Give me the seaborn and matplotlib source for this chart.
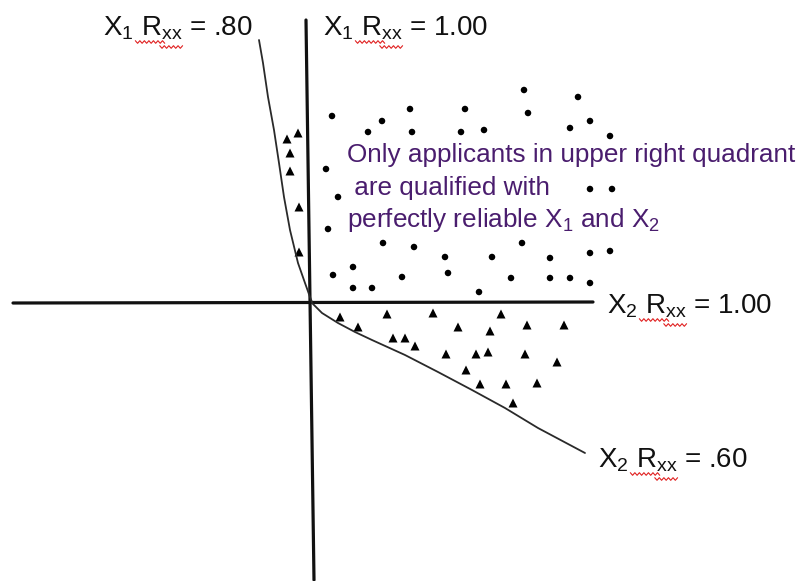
import numpy as np
import pandas as pd
import matplotlib
matplotlib.use("Agg")
import matplotlib.pyplot as plt
import seaborn as sns

# Applicants qualified on both predictors (upper right quadrant)
dots_x = [20, 98, 70, 56, 100, 153, 149, 172, 212, 216, 266, 278, 258, 298,
          14, 26, 16, 278, 300, 71, 102, 133, 180, 210, 238, 278, 298,
          21, 41, 41, 60, 90, 136, 167, 199, 238, 258, 278]
dots_y = [186, 193, 181, 170, 170, 193, 170, 172, 212, 189, 205, 181, 174, 166,
          133, 105, 73, 113, 113, 59, 55, 45, 45, 59, 44, 49, 51,
          27, 35, 14, 14, 25, 29, 10, 24, 24, 24, 19]

# Applicants that only qualify once measurement error is allowed
tri_x = [-14, -25, -22, -22, -13, -13,
         28, 46, 75, 121, 189, 146, 178, 215, 252, 81, 93, 103, 134, 164, 176,
         213, 245, 154, 168, 194, 225, 201]
tri_y = [169, 163, 149, 131, 95, 50,
         -15, -25, -12, -11, -12, -25, -29, -23, -23, -36, -36, -44, -52, -52, -50,
         -52, -60, -68, -82, -82, -81, -101]

# Boundaries for the unreliable predictors
x1_curve_x = [-53, -49, -44, -38, -33, -28, -22, -14, -7, -2, 0]
x1_curve_y = [262, 239, 205, 172, 139, 105, 72, 39, 19, 5, 0]
x2_curve_x = [0, 10, 26, 43, 60, 93, 126, 160, 193, 226, 273]
x2_curve_y = [-1, -11, -21, -30, -38, -53, -70, -88, -106, -126, -151]

# Perfectly reliable predictor axes
h_axis_x = [-299, 281]
h_axis_y = [-1, 0]
v_axis_x = [-6, 2]
v_axis_y = [282, -278]

labels = ["X$_1$ R$_{xx}$ = .80", "X$_1$ R$_{xx}$ = 1.00",
          "X$_2$ R$_{xx}$ = 1.00", "X$_2$ R$_{xx}$ = .60"]
label_x = [-209, 11, 295, 286]
label_y = [267, 267, -11, -165]

note_lines = ["Only applicants in upper right quadrant",
              " are qualified with",
              "perfectly reliable X$_1$ and X$_2$"]
note_x = 35
note_y = [140, 107, 75]

sns.set_theme(style="white")
plt.rcParams["font.family"] = ["Liberation Sans", "DejaVu Sans"]
plt.rcParams["mathtext.fontset"] = "custom"
plt.rcParams["mathtext.rm"] = "Liberation Sans"
plt.rcParams["mathtext.it"] = "Liberation Sans"
plt.rcParams["mathtext.default"] = "regular"

fig = plt.figure(figsize=(7.96, 5.81), dpi=100)
ax = fig.add_axes([0, 0, 1, 1])
ax.set_xlim(-312, 484)
ax.set_ylim(-279, 302)
ax.axis("off")

ink = "#111111"
sns.lineplot(x=h_axis_x, y=h_axis_y, color=ink, lw=2.3, ax=ax, sort=False)
sns.lineplot(x=v_axis_x, y=v_axis_y, color=ink, lw=2.3, ax=ax, sort=False)
sns.lineplot(x=x1_curve_x, y=x1_curve_y, color="#2a2a2a", lw=1.3, ax=ax, sort=False)
sns.lineplot(x=x2_curve_x, y=x2_curve_y, color="#2a2a2a", lw=1.3, ax=ax, sort=False)

sns.scatterplot(x=dots_x, y=dots_y, marker="o", s=22, color="black",
                edgecolor="none", ax=ax, legend=False)
sns.scatterplot(x=tri_x, y=tri_y, marker="^", s=42, color="black",
                edgecolor="none", ax=ax, legend=False)

fs = 20
texts = []
for lab, lx, ly in zip(labels, label_x, label_y):
    t = ax.text(lx, ly, lab, fontsize=fs, color=ink, ha="left", va="baseline")
    texts.append(t)

for line, ly in zip(note_lines, note_y):
    ax.text(note_x, ly, line, fontsize=18.8, color="#4a1d6e", ha="left", va="baseline")

# red spell-check squiggles under "Rxx"
fig.canvas.draw()
renderer = fig.canvas.get_renderer()
inv = ax.transData.inverted()


def text_width(s):
    tmp = ax.text(0, 0, s, fontsize=fs)
    w = tmp.get_window_extent(renderer).width
    tmp.remove()
    return w


def squiggle(x0, x1, y):
    n = max(int((x1 - x0) / 2.2), 2)
    xs = np.linspace(x0, x1, n + 1)
    ys = y + np.where(np.arange(n + 1) % 2 == 0, 1.3, -1.3)
    pts = inv.transform(np.column_stack([xs, ys]))
    ax.plot(pts[:, 0], pts[:, 1], color="#e02020", lw=0.8)


for t, lab in zip(texts, labels):
    prefix = lab.split("R")[0]
    w_pre = text_width(prefix)
    w_r = text_width(prefix + "R")
    w_rxx = text_width(prefix + "R$_{xx}$")
    bx, by = ax.transData.transform(t.get_position())
    squiggle(bx + w_pre, bx + w_r + 3, by - 7)
    squiggle(bx + w_r - 2, bx + w_rxx, by - 12)

fig.savefig("out.png", dpi=100, facecolor="white")
